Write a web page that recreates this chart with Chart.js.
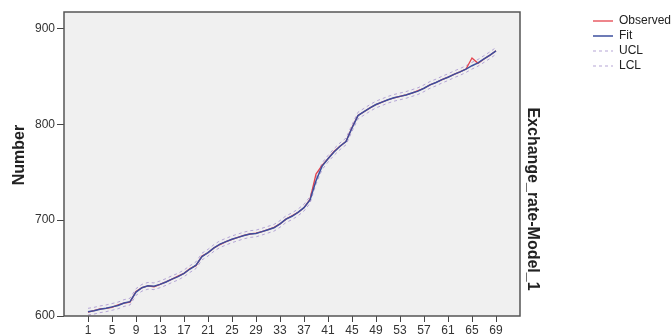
<!DOCTYPE html>
<html>
<head>
<meta charset="utf-8">
<script src="https://cdn.jsdelivr.net/npm/chart.js@4.4.1/dist/chart.umd.min.js"></script>
<style>
  html, body { margin: 0; padding: 0; background: #fff; }
  #wrap { width: 672px; height: 335px; position: relative; }
</style>
</head>
<body>
<div id="wrap"><canvas id="seqChart"></canvas></div>
<script>
'use strict';

// ── Data ────────────────────────────────────────────────
const periods = Array.from({ length: 69 }, (_, i) => i + 1);

const observed = [
    604, 605.5, 607.5, 608, 609, 611.5, 613.5, 614.5, 625.5, 629.5,
    631.5, 630.5, 633, 635.5, 638.5, 641.5, 644.5, 649.5, 652.5, 662.5,
    666, 671, 674.5, 677.5, 680, 682, 684, 685.5, 686.5, 688,
    690, 692.5, 696, 701, 704.5, 708, 713, 721.5, 748, 757,
    764, 771.5, 777, 782, 796.5, 809, 813, 817, 820.5, 823,
    825.5, 827.5, 829, 830.5, 832.5, 835, 837.5, 841, 843.5, 846.5,
    849, 852, 854.5, 857.5, 869, 863.5, 868, 872, 876.5
];
const fit = [
    604.5, 605.5, 607, 608, 609.5, 611, 613.5, 615, 625, 629.5,
    631.5, 631, 633, 635.5, 638.5, 641, 644.5, 649, 653, 662,
    666, 671, 675, 677.5, 680, 682, 684, 685.5, 686, 688,
    690, 692, 696, 701, 704, 708, 713, 721, 741, 756,
    764, 771, 777, 782, 796, 809, 813, 817, 820.5, 823,
    825.5, 827.5, 829, 830.5, 832.5, 834.5, 837.5, 841, 843.5, 846.5,
    849, 852, 854.5, 857.5, 861, 864, 868, 872, 876.5
];
const ucl = [
    608, 609, 610.5, 611.5, 613, 614.5, 617, 618.5, 628.5, 633,
    635, 634.5, 636.5, 639, 642, 644.5, 648, 652.5, 656.5, 665.5,
    669.5, 674.5, 678.5, 681, 683.5, 685.5, 687.5, 689, 689.5, 691.5,
    693.5, 695.5, 699.5, 704.5, 707.5, 711.5, 716.5, 724.5, 744.5, 759.5,
    767.5, 774.5, 780.5, 785.5, 799.5, 812.5, 816.5, 820.5, 824, 826.5,
    829, 831, 832.5, 834, 836, 838, 841, 844.5, 847, 850,
    852.5, 855.5, 858, 861, 864.5, 867.5, 871.5, 875.5, 880
];
const lcl = [
    601, 602, 603.5, 604.5, 606, 607.5, 610, 611.5, 621.5, 626,
    628, 627.5, 629.5, 632, 635, 637.5, 641, 645.5, 649.5, 658.5,
    662.5, 667.5, 671.5, 674, 676.5, 678.5, 680.5, 682, 682.5, 684.5,
    686.5, 688.5, 692.5, 697.5, 700.5, 704.5, 709.5, 717.5, 737.5, 752.5,
    760.5, 767.5, 773.5, 778.5, 792.5, 805.5, 809.5, 813.5, 817, 819.5,
    822, 824, 825.5, 827, 829, 831, 834, 837.5, 840, 843,
    845.5, 848.5, 851, 854, 857.5, 860.5, 864.5, 868.5, 873
];

const xTicks = [1, 5, 9, 13, 17, 21, 25, 29, 33, 37, 41, 45, 49, 53, 57, 61, 65, 69];
const yTicks = [600, 700, 800, 900];

// ── Helpers ─────────────────────────────────────────────
const toPoints = arr => arr.map((v, i) => ({ x: periods[i], y: v }));
const tickColor = '#444';
const textColor = '#333';

Chart.defaults.font.family = "'Liberation Sans', Arial, sans-serif";

// gray plot background + frame, like the SPSS sequence chart
const plotFrame = {
    id: 'plotFrame',
    afterLayout(chart) {
        // axis titles are not centred on the plot in the original
        const { y, y2 } = chart.scales;
        y.top -= 9; y.bottom -= 9;
        y2.top += 35; y2.bottom += 35;
    },
    beforeDatasetsDraw(chart) {
        const { ctx, chartArea: a } = chart;
        ctx.save();
        ctx.fillStyle = '#f0f0f0';
        ctx.fillRect(a.left, a.top, a.right - a.left, a.bottom - a.top);
        ctx.restore();
    },
    afterDatasetsDraw(chart) {
        const { ctx, chartArea: a } = chart;
        ctx.save();
        ctx.strokeStyle = '#555';
        ctx.lineWidth = 1.5;
        ctx.strokeRect(a.left, a.top, a.right - a.left, a.bottom - a.top);
        ctx.restore();
    }
};

const dashed = { borderColor: '#b5a6d6', borderWidth: 1, borderDash: [3, 3] };

new Chart(document.getElementById('seqChart'), {
    type: 'line',
    data: {
        datasets: [
            { label: 'Observed', data: toPoints(observed), borderColor: '#e5434d', borderWidth: 1.3, order: 1 },
            { label: 'Fit', data: toPoints(fit), borderColor: '#3c4f9e', borderWidth: 1.5, order: 0 },
            { label: 'UCL', data: toPoints(ucl), ...dashed, order: 2 },
            { label: 'LCL', data: toPoints(lcl), ...dashed, order: 3 },
        ],
    },
    options: {
        responsive: true,
        maintainAspectRatio: false,
        animation: false,
        events: [],
        layout: { padding: { top: 12, left: 0, right: 0, bottom: 0 } },
        datasets: { line: { clip: false } },
        elements: { point: { radius: 0 }, line: { tension: 0 } },
        plugins: {
            tooltip: { enabled: false },
            legend: {
                position: 'right',
                align: 'start',
                maxWidth: 82,
                labels: {
                    usePointStyle: true,
                    pointStyle: 'line',
                    pointStyleWidth: 20,
                    padding: 3,
                    color: '#222',
                    font: { size: 12 },
                    sort: (a, b) => a.datasetIndex - b.datasetIndex,
                    // point style drops the dash pattern, put it back
                    generateLabels: chart => Chart.defaults.plugins.legend.labels.generateLabels(chart)
                        .map(item => ({ ...item, lineDash: chart.data.datasets[item.datasetIndex].borderDash || [] })),
                },
            },
        },
        scales: {
            x: {
                type: 'linear',
                min: -3,
                max: 73,
                afterBuildTicks: s => { s.ticks = xTicks.map(v => ({ value: v })); },
                afterFit: s => { s.height = 19; },
                grid: { drawOnChartArea: false, drawTicks: true, tickLength: 6, color: tickColor },
                border: { display: false },
                ticks: { color: textColor, font: { size: 12 }, padding: 1, autoSkip: false, maxRotation: 0 },
            },
            y: {
                min: 600,
                max: 917,
                afterBuildTicks: s => { s.ticks = yTicks.map(v => ({ value: v })); },
                afterFit: s => { s.width = 64; },
                grid: { drawOnChartArea: false, drawTicks: true, tickLength: 7, color: tickColor },
                border: { display: false },
                ticks: { color: textColor, font: { size: 12 }, padding: 2 },
                title: {
                    display: true,
                    text: 'Number',
                    color: '#222',
                    font: { size: 16, weight: 'bold' },
                    padding: { top: 10, bottom: 0 },
                },
            },
            y2: {
                type: 'linear',
                position: 'right',
                min: 600,
                max: 917,
                afterFit: s => { s.width = 70; },
                grid: { display: false },
                border: { display: false },
                ticks: { display: false },
                title: {
                    display: true,
                    text: 'Exchange_rate-Model_1',
                    color: '#222',
                    font: { size: 16, weight: 'bold' },
                    padding: { top: 48, bottom: 0 },
                },
            },
        },
    },
    plugins: [plotFrame],
});
</script>
</body>
</html>
